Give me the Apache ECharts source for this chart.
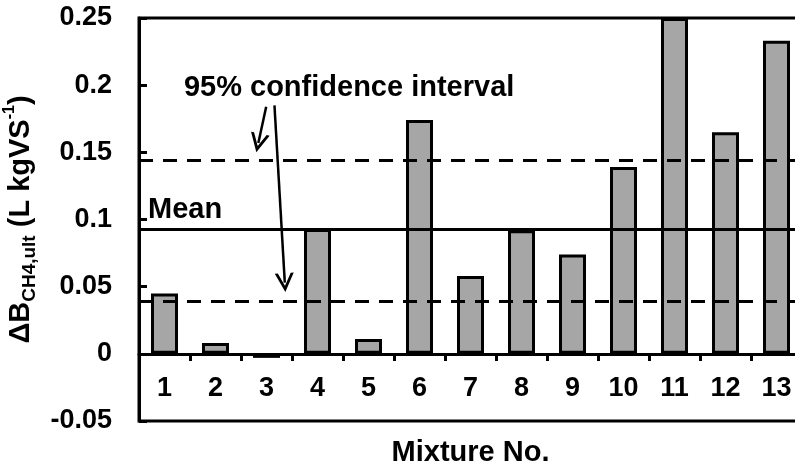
<!DOCTYPE html>
<html>
<head>
<meta charset="utf-8">
<script src="https://cdn.jsdelivr.net/npm/echarts@6/dist/echarts.min.js"></script>
<style>
  html, body { margin: 0; padding: 0; background: #fff; }
  #chart { width: 795px; height: 473px; }
</style>
</head>
<body>
<div id="chart"></div>
<script>
// data
const mixtures = ['1', '2', '3', '4', '5', '6', '7', '8', '9', '10', '11', '12', '13']
const deltaB = [0.045, 0.008, -0.003, 0.093, 0.011, 0.174, 0.058, 0.092, 0.074, 0.139, 0.25, 0.165, 0.233]
const meanValue = 0.093
const ciUpper = 0.144
const ciLower = 0.039
// annotation anchors, x in category units (0 = left edge, 13 = right edge)
const ciTextPos = [4.12, 0.198]
const ciArrows = [
  [[2.494, 0.184], [2.340, 0.157]],
  [[2.656, 0.185], [2.859, 0.053]]
]

const font = "'Liberation Sans', Arial, sans-serif"
const chevron = 'path://M10,0 L20,17 L16.8,17 L10,5.8 L3.2,17 L0,17 Z'

const chart = echarts.init(document.getElementById('chart'))
chart.setOption({
  animation: false,
  textStyle: { fontFamily: font },
  grid: {
    left: 139,
    top: 18,
    right: -7,
    bottom: 52,
    outerBoundsMode: 'none',
    containLabel: false,
    show: true,
    borderColor: '#000',
    borderWidth: 3
  },
  xAxis: [{
    type: 'category',
    data: mixtures,
    position: 'bottom',
    // axis sits on the zero line, 67px above the bottom of the box
    offset: -67,
    name: 'Mixture No.',
    nameLocation: 'middle',
    nameGap: 84,
    nameTextStyle: { fontSize: 29, fontWeight: 'bold', color: '#000', fontFamily: font },
    axisLine: { onZero: false, lineStyle: { color: '#000', width: 3 } },
    axisTick: { show: true, length: 7, lineStyle: { color: '#000', width: 3 } },
    axisLabel: { fontSize: 27, fontWeight: 'bold', color: '#000', margin: 21, fontFamily: font },
    splitLine: { show: false }
  }, {
    type: 'value',
    min: 0,
    max: 13,
    show: false
  }],
  yAxis: {
    type: 'value',
    min: -0.05,
    max: 0.25,
    interval: 0.05,
    name: '{a|ΔB}{b|CH4,ult}{a| (L kgVS}{c|-1}{a|)}',
    nameLocation: 'middle',
    nameGap: 89,
    nameTextStyle: {
      color: '#000',
      fontFamily: font,
      rich: {
        a: { fontSize: 29, fontWeight: 'bold', color: '#000', lineHeight: 38, fontFamily: font },
        b: { fontSize: 19, fontWeight: 'bold', color: '#000', lineHeight: 19, verticalAlign: 'bottom', fontFamily: font },
        c: { fontSize: 16, fontWeight: 'bold', color: '#000', lineHeight: 16, verticalAlign: 'top', fontFamily: font }
      }
    },
    axisLine: { show: true, onZero: false, lineStyle: { color: '#000', width: 3 } },
    axisTick: { show: true, inside: true, length: 8, lineStyle: { color: '#000', width: 3 } },
    axisLabel: { fontSize: 27, fontWeight: 'bold', color: '#000', margin: 27, fontFamily: font },
    splitLine: { show: false }
  },
  series: [{
    type: 'bar',
    data: deltaB,
    barWidth: 27,
    itemStyle: { color: '#a6a6a6', borderColor: '#000', borderWidth: 3 },
    markLine: {
      silent: true,
      symbol: 'none',
      precision: 3,
      data: [{
        yAxis: meanValue,
        lineStyle: { color: '#000', width: 3, type: 'solid' },
        label: {
          show: true,
          formatter: 'Mean',
          position: 'insideStartTop',
          distance: [9, 4],
          fontSize: 29,
          fontWeight: 'bold',
          color: '#000',
          fontFamily: font
        }
      }, {
        yAxis: ciUpper,
        lineStyle: { color: '#000', width: 3, type: [14, 10] },
        label: { show: false }
      }, {
        yAxis: ciLower,
        lineStyle: { color: '#000', width: 3, type: [14, 10] },
        label: { show: false }
      }]
    }
  }, {
    type: 'lines',
    coordinateSystem: 'cartesian2d',
    xAxisIndex: 1,
    yAxisIndex: 0,
    silent: true,
    symbol: ['none', chevron],
    symbolSize: 19,
    lineStyle: { color: '#000', width: 2.5, opacity: 1 },
    data: ciArrows.map(c => ({ coords: c }))
  }, {
    type: 'scatter',
    xAxisIndex: 1,
    yAxisIndex: 0,
    silent: true,
    symbolSize: 0,
    itemStyle: { opacity: 1 },
    data: [ciTextPos],
    label: {
      show: true,
      position: 'inside',
      formatter: '95% confidence interval',
      fontSize: 29,
      fontWeight: 'bold',
      color: '#000',
      opacity: 1,
      fontFamily: font
    }
  }]
})
</script>
</body>
</html>
